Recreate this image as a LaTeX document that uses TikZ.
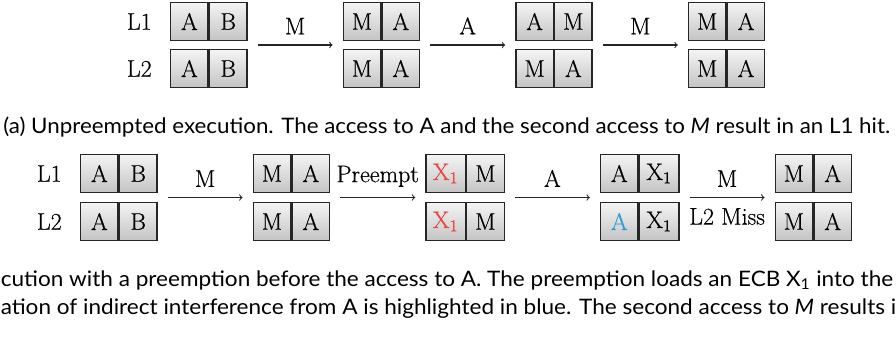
\documentclass[tikz,border=0pt]{standalone}
\usepackage{fontspec}
\setsansfont{Lato}
\newfontfamily\dfont{Latin Modern Roman}[FakeBold=0.5]
\usepackage{graphicx}
\usetikzlibrary{calc}
\definecolor{celltop}{HTML}{F4F4F4}
\definecolor{cellbot}{HTML}{C4C4C4}
\definecolor{xred}{HTML}{E8463E}
\definecolor{ablue}{HTML}{2B9AD6}
\newlength\pxu \setlength\pxu{0.75pt}
\newcommand\twocell[4]{%
  \node[cell] (#1l) at #2 {#3};
  \node[cell] (#1r) at (#1l.east) {#4};}
\newcommand\xone{X\textsubscript{1}}
\tikzset{
  cell/.style={draw=black!85, line width=1pt, top color=celltop, bottom color=cellbot,
    minimum width=28.1pt, minimum height=28.1pt, inner xsep=5.25pt, inner ysep=0pt,
    font=\dfont\fontsize{18}{20}\selectfont, anchor=west},
  rowlab/.style={font=\dfont\fontsize{18}{20}\selectfont, inner sep=0pt, anchor=east},
  arrlab/.style={font=\dfont\fontsize{18}{20}\selectfont, inner sep=7.6pt},
  arr/.style={->, draw=black!85, line width=0.8pt, shorten <=7.5pt, shorten >=7.5pt},
  captext/.style={font=\sffamily\fontsize{16}{19}\selectfont, inner sep=0pt, anchor=base west}
}
\begin{document}
\begin{tikzpicture}[x=0.75pt, y=-0.75pt]
\clip (0,0) rectangle (896,355);
% ---------- (a) ----------
\twocell{A1u}{(170,21.5)}{A}{B}
\twocell{A1d}{(170,68.5)}{A}{B}
\twocell{A2u}{([xshift=71.25pt]A1ur.east)}{M}{A}
\twocell{A2d}{([xshift=71.25pt]A1dr.east)}{M}{A}
\twocell{A3u}{([xshift=71.25pt]A2ur.east)}{A}{M}
\twocell{A3d}{([xshift=71.25pt]A2dr.east)}{M}{A}
\twocell{A4u}{([xshift=71.25pt]A3ur.east)}{M}{A}
\twocell{A4d}{([xshift=71.25pt]A3dr.east)}{M}{A}
\node[rowlab] (aL1) at ([xshift=-13.5pt]A1ul.west) {L1};
\node[rowlab] (aL2) at ([xshift=-13.5pt]A1dl.west) {L2};
\draw[arr] ($(A1ur.south east)!.5!(A1dr.north east)$) -- ($(A2ul.south west)!.5!(A2dl.north west)$)
  node[arrlab, midway, above] (aM1) {M};
\draw[arr] ($(A2ur.south east)!.5!(A2dr.north east)$) -- ($(A3ul.south west)!.5!(A3dl.north west)$)
  node[arrlab, midway, above] (aA1) {A};
\draw[arr] ($(A3ur.south east)!.5!(A3dr.north east)$) -- ($(A4ul.south west)!.5!(A4dl.north west)$)
  node[arrlab, midway, above] (aM2) {M};
\node[captext] (capa) at (3,133) {\resizebox{887\pxu}{\height}{(a) Unpreempted execution. The access to A and the second access to \textit{M} result in an L1 hit.}};
% ---------- (b) ----------
\twocell{B1u}{(80,173.5)}{A}{B}
\twocell{B1d}{(80,221.5)}{A}{B}
\twocell{B2u}{([xshift=71.25pt]B1ur.east)}{M}{A}
\twocell{B2d}{([xshift=71.25pt]B1dr.east)}{M}{A}
\twocell{B3u}{([xshift=71.25pt]B2ur.east)}{\textcolor{xred}{\xone}}{M}
\twocell{B3d}{([xshift=71.25pt]B2dr.east)}{\textcolor{xred}{\xone}}{M}
\twocell{B4u}{([xshift=71.25pt]B3ur.east)}{A}{\xone}
\twocell{B4d}{([xshift=71.25pt]B3dr.east)}{\textcolor{ablue}{A}}{\xone}
\twocell{B5u}{([xshift=71.25pt]B4ur.east)}{M}{A}
\twocell{B5d}{([xshift=71.25pt]B4dr.east)}{M}{A}
\node[rowlab] (bL1) at ([xshift=-13.5pt]B1ul.west) {L1};
\node[rowlab] (bL2) at ([xshift=-13.5pt]B1dl.west) {L2};
\draw[arr] ($(B1ur.south east)!.5!(B1dr.north east)$) -- ($(B2ul.south west)!.5!(B2dl.north west)$)
  node[arrlab, midway, above] (bM1) {M};
\draw[arr] ($(B2ur.south east)!.5!(B2dr.north east)$) -- ($(B3ul.south west)!.5!(B3dl.north west)$)
  node[arrlab, midway, above] (bP) {Preempt};
\draw[arr] ($(B3ur.south east)!.5!(B3dr.north east)$) -- ($(B4ul.south west)!.5!(B4dl.north west)$)
  node[arrlab, midway, above] (bA) {A};
\draw[arr] ($(B4ur.south east)!.5!(B4dr.north east)$) -- ($(B5ul.south west)!.5!(B5dl.north west)$)
  node[arrlab, midway, above] (bM2) {M}
  node[arrlab, midway, below] (bMiss) {L2 Miss};
\node[captext] (capb1) at (0.5,286) {\resizebox{892.5\pxu}{\height}{cution with a preemption before the access to A. The preemption loads an ECB X\textsubscript{1} into the}};
\node[captext] (capb2) at (0.5,314) {\resizebox{895.5\pxu}{\height}{ation of indirect interference from A is highlighted in blue. The second access to \textit{M} results i}};
\end{tikzpicture}
\end{document}
